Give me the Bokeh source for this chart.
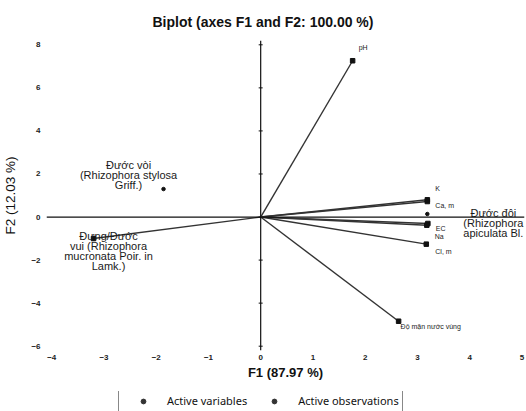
from bokeh.plotting import figure
from bokeh.layouts import column
from bokeh.models import Span, Legend, LegendItem, Range1d, FixedTicker, ColumnDataSource
from bokeh.core.properties import value
from bokeh.embed import file_html
from bokeh.resources import INLINE

# ---- data ----
var_names = ["pH", "K", "Ca, m", "EC", "Na", "Cl, m", "Độ mặn nước vùng", ""]
var_f1 = [1.76, 3.19, 3.19, 3.20, 3.18, 3.17, 2.64, -3.20]
var_f2 = [7.26, 0.80, 0.72, -0.30, -0.38, -1.26, -4.84, -1.00]

obs_names = ["Đước vòi\n(Rhizophora stylosa\nGriff.)",
             "Đưng/Đước\nvui (Rhizophora\nmucronata Poir. in\nLamk.)",
             "Đước đôi\n(Rhizophora\napiculata Bl."]
obs_f1 = [-1.86, -3.20, 3.19]
obs_f2 = [1.30, -1.00, 0.14]

x_ticks = [-4, -3, -2, -1, 0, 1, 2, 3, 4, 5]
y_ticks = [-6, -4, -2, 0, 2, 4, 6, 8]

title_text = "Biplot (axes F1 and F2: 100.00 %)"
x_title = "F1 (87.97 %)"
y_title = "F2 (12.03 %)"
legend_labels = ["Active variables", "Active observations"]

# label placement (screen px offsets)
var_dx = [6, 8, 8, 8, 8, 9, 2, 0]
var_dy = [-13, -11, 4, 5, 11, 7, 5, 0]
obs_dx = [-35, 15, 66]
obs_dy = [2, 33, 25]

FONT = "Liberation Sans"
INK = "#1a1a1a"

p = figure(width=526, height=391, x_range=Range1d(-4.1, 5.05), y_range=Range1d(-6.2, 8.2),
           output_backend="svg", toolbar_location=None,
           min_border_left=46, min_border_right=2, min_border_top=40, min_border_bottom=41)
p.outline_line_color = None
p.xgrid.visible = False
p.ygrid.visible = False
p.background_fill_color = "white"

p.title.text = title_text
p.title.align = "left"
p.title.offset = 106
p.title.standoff = 22
p.title.text_font = FONT
p.title.text_font_size = "14px"
p.title.text_font_style = "bold"
p.title.text_color = "#111111"

for ax, ticks in ((p.xaxis, x_ticks), (p.yaxis, y_ticks)):
    ax.ticker = FixedTicker(ticks=ticks)
    ax.axis_line_color = None
    ax.major_tick_line_color = None
    ax.minor_tick_line_color = None
    ax.major_tick_out = 0
    ax.major_tick_in = 0
    ax.minor_tick_out = 0
    ax.major_label_text_font = FONT
    ax.major_label_text_font_size = "8px"
    ax.major_label_text_font_style = "bold"
    ax.major_label_text_color = "#222222"
    ax.axis_label_text_font = FONT
    ax.axis_label_text_color = "#111111"

p.xaxis.axis_label = x_title
p.xaxis.axis_label_text_font_size = "13px"
p.xaxis.axis_label_text_font_style = "bold"
p.xaxis.major_label_standoff = 4
p.xaxis.axis_label_standoff = 2
p.yaxis.axis_label = y_title
p.yaxis.axis_label_text_font_size = "13.5px"
p.yaxis.axis_label_text_font_style = "normal"
p.yaxis.major_label_standoff = 6
p.yaxis.axis_label_standoff = 10

p.add_layout(Span(location=0, dimension="height", line_color="#111111", line_width=1.2))
p.add_layout(Span(location=0, dimension="width", line_color="#111111", line_width=1.2))
# small ticks on the zero axes
p.scatter(x=[0] * len(y_ticks), y=y_ticks, marker="dash", size=4, line_color="#111111", line_width=1)

vsrc = ColumnDataSource(dict(x0=[0] * len(var_f1), y0=[0] * len(var_f1), x=var_f1, y=var_f2,
                             name=var_names, dx=var_dx, dy=var_dy))
p.segment(x0="x0", y0="y0", x1="x", y1="y", source=vsrc, line_color="#333333", line_width=1.4)
p.scatter(x="x", y="y", source=vsrc, marker="square", size=4.5, fill_color="#111111",
          line_color="#111111")
p.text(x="x", y="y", text="name", source=vsrc, x_offset="dx", y_offset="dy",
       text_font=value(FONT), text_font_size="7px", text_color=INK,
       text_align="left", text_baseline="middle")

osrc = ColumnDataSource(dict(x=obs_f1, y=obs_f2, name=obs_names, dx=obs_dx, dy=obs_dy))
p.scatter(x="x", y="y", source=osrc, marker="circle", size=3.5, fill_color="#111111",
          line_color="#111111")
p.text(x="x", y="y", text="name", source=osrc, x_offset="dx", y_offset="dy",
       text_font=value(FONT), text_font_size="11px", text_color=INK,
       text_align="center", text_baseline="bottom", text_line_height=0.82)

# legend strip (its renderers fall outside the strip's ranges, only the legend shows)
lf = figure(width=526, height=20, x_range=Range1d(10, 11), y_range=Range1d(10, 11),
            output_backend="svg", toolbar_location=None,
            min_border_left=0, min_border_right=0, min_border_top=0, min_border_bottom=0)
lf.axis.visible = False
lf.grid.visible = False
lf.outline_line_color = None
r1 = lf.scatter(x=var_f1, y=var_f2, marker="circle", size=3.5, fill_color="#333333",
                line_color="#333333")
r2 = lf.scatter(x=obs_f1, y=obs_f2, marker="circle", size=3.5, fill_color="#333333",
                line_color="#333333")
legend = Legend(items=[LegendItem(label=legend_labels[0], renderers=[r1]),
                       LegendItem(label=legend_labels[1], renderers=[r2])],
                orientation="horizontal", location=(72, -1),
                label_text_font="Noto Sans", label_text_font_size="11px",
                label_text_color="#111111", glyph_width=42, glyph_height=12,
                border_line_color="#111111", border_line_width=1,
                padding=3, spacing=6, margin=0, label_standoff=3)
lf.add_layout(legend)

open("out.html", "w").write(file_html(column(p, lf, spacing=0), INLINE))
